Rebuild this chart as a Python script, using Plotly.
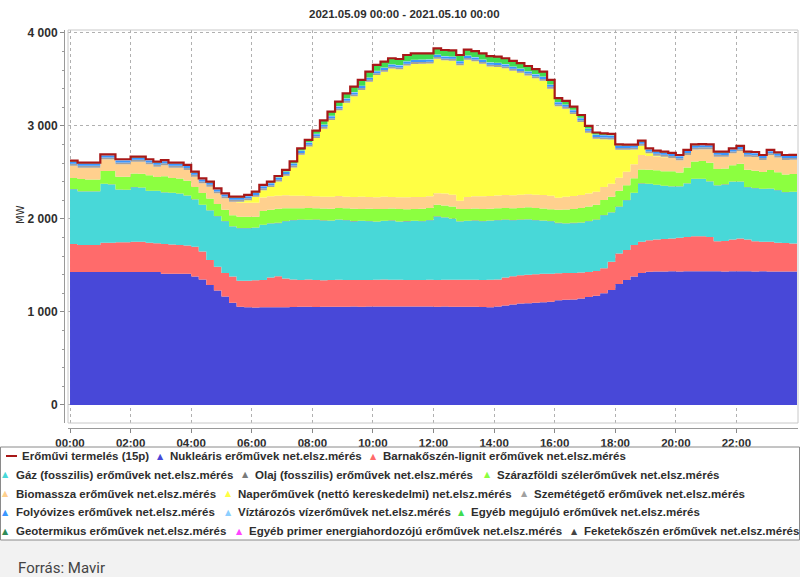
import plotly.graph_objects as go
import pandas as pd

# ---------------- data (MW, 15-minute intervals, 2021.05.09) ----------------
TIME = pd.date_range("2021-05-09 00:00", periods=96, freq="15min")
END_TIME = pd.Timestamp("2021-05-10 00:00")

TOTAL = [2627,2606,2606,2606,2695,2695,2642,2642,2670,2670,2642,2616,2632,2606,2606,2581,2509,2437,2401,2330,2276,2240,2240,2258,
         2294,2366,2401,2462,2527,2620,2760,2850,2950,3060,3154,3262,3351,3423,3495,3584,3656,3692,3728,3720,3763,3781,3781,3781,
         3835,3817,3812,3763,3822,3805,3781,3750,3745,3728,3700,3676,3645,3612,3584,3495,
         3300,3270,3208,3118,3000,2930,2921,2915,2802,2800,2800,2842,2760,2735,2725,2710,2688,2742,2802,2805,2802,2724,2724,2760,2785,2724,2720,2688,2742,2716,2688,2690]

NUKLEARIS = [1430,1430,1430,1430,1430,1430,1430,1430,1430,1430,1430,1430,
             1410,1410,1410,1410,
             1380,1350,1290,1230,1165,1100,1055,
             1050,1048,1050,1052,1050,1050,1053,1055,1055,1054,1055,1056,1055,1056,1058,1057,1058,1058,1060,1058,1059,1060,1060,1058,1058,1057,1058,1056,1055,1056,1055,1053,1052,
             1060,1070,1080,1090,1095,1100,1105,1110,1125,1130,1135,1145,1160,1175,1200,1235,1300,1345,1380,1420,1432,
             1435,1436,1437,1436,1438,1437,1438,1439,1437,1436,1437,1438,1437,1436,1437,1436,1435,1436,1435]

LIGNIT = [300,290,290,290,315,315,320,320,325,325,315,310,
          320,315,310,305,
          320,300,270,257,255,280,280,285,
          292,295,318,335,310,297,
          290,293,291,287,289,292,289,286,286,287,288,288,289,287,284,283,287,289,288,288,291,292,291,292,292,294,
          290,300,305,305,305,305,305,302,290,288,285,280,270,265,270,305,330,320,340,335,340,345,348,353,362,368,377,376,368,323,328,343,352,343,324,319,318,309,305,300]

GAZ = [590,575,575,575,630,625,565,562,585,580,555,560,555,555,550,535,510,500,530,543,555,540,565,565,
       565,590,580,570,615,635,645,640,645,640,635,645,640,630,635,630,625,630,635,625,630,635,630,640,
       680,670,655,625,630,635,630,635,635,620,600,595,595,580,570,563,540,532,535,535,545,550,570,530,500,535,560,625,
       603,585,570,560,550,575,615,615,595,600,605,620,610,560,570,565,570,565,545,555]

OLAJ = [3,3,3,3,3,3,3,3,3,3,3,3,3,3,3,3,3,3,3,3,3,3,3,3,
        3,3,3,3,3,3,3,3,3,3,3,3,3,3,3,3,3,3,3,3,3,3,3,3,
        3,3,3,3,3,3,3,3,3,3,3,3,3,3,3,3,3,3,3,3,3,3,3,3,
        3,3,3,3,3,3,3,3,3,3,3,3,3,3,3,3,3,3,3,3,3,3,3,3]

SZEL = [117,132,127,127,137,142,137,140,147,147,167,147,172,157,162,157,132,127,127,127,122,117,122,122,
        117,147,147,152,137,127,122,127,122,127,127,122,127,132,127,132,132,127,127,132,127,127,132,127,
        125,127,130,132,127,127,130,127,127,125,127,125,127,130,130,127,
        140,150,150,155,155,160,160,165,170,160,155,150,150,155,155,160,150,170,185,190,200,175,170,175,190,185,185,180,200,190,190,190]

BIOMASSZA = [133,122,127,127,126,126,133,133,126,131,118,112,118,112,117,117,110,103,127,116,122,146,150,150,
             150,145,145,140,140,135,135,130,130,128,128,130,125,128,130,125,128,130,125,128,130,128,125,128,
             123,128,125,90,130,132,135,135,138,140,140,142,140,142,145,145,
             130,135,140,140,140,140,140,140,140,145,150,155,150,150,153,143,131,135,130,128,145,132,127,128,138,142,148,131,160,159,156,153]

NAP = [0,0,0,0,0,0,0,0,0,0,0,0,0,0,0,0,0,0,0,0,0,0,11,27,
       63,79,98,152,209,304,440,530,625,731,825,921,1011,1082,1149,1241,1313,1345,1381,1375,1416,1431,1434,1426,
       1447,1432,1442,1456,1475,1451,1426,1393,1382,1362,1339,1312,1278,1252,1228,1151,
       984,948,880,784,655,569,514,476,301,236,158,100,28,8,5,
       0,0,0,0,0,0,0,0,0,0,0,0,0,0,0,0,0]

SZEMET = [20,20,20,20,20,20,20,20,20,20,20,20,20,20,20,20,20,20,20,20,20,20,20,20,
          20,20,20,20,20,20,20,20,20,20,20,20,20,20,20,20,20,20,20,20,20,20,20,20,
          20,20,20,20,20,20,20,20,20,20,20,20,20,20,20,20,20,20,20,20,20,20,20,20,
          20,20,20,20,20,20,20,20,20,20,20,20,20,20,20,20,20,20,20,20,20,20,20,20]

FOLYOVIZ = [22,22,22,22,22,22,22,22,22,22,22,22,22,22,22,22,22,22,22,22,22,22,22,22,
            22,22,22,22,22,22,22,22,22,22,22,22,22,22,22,22,22,22,22,22,22,22,22,22,
            22,22,22,22,22,22,22,22,22,22,22,22,22,22,22,22,22,22,22,22,22,22,22,22,
            22,22,22,22,22,22,22,22,22,22,22,22,22,22,22,22,22,22,22,22,22,22,22,22]

VIZTAROZO = [4,4,4,4,4,4,4,4,4,4,4,4,4,4,4,4,4,4,4,4,4,4,4,4,
             4,4,4,4,4,4,4,4,4,4,4,4,4,4,4,4,4,4,4,4,4,4,4,4,
             4,4,4,4,4,4,4,4,4,4,4,4,4,4,4,4,4,4,4,4,4,4,4,4,
             4,4,4,4,4,4,4,4,4,4,4,4,4,4,4,4,4,4,4,4,4,4,4,4]

EGYEB_MEGUJ = [6,6,6,6,6,6,6,6,6,6,6,6,6,6,6,6,6,6,6,6,6,6,6,
               8,8,9,10,12,15,18,22,27,32,38,43,48,52,55,58,60,62,
               64,64,64,64,64,64,64,64,64,64,64,64,64,64,64,
               62,60,58,56,54,52,50,46,40,36,32,28,24,20,16,13,10,8,
               6,6,6,6,6,6,6,6,6,6,6,6,6,6,6,6,6,6,6,6,6,6]

GEOTERMIKUS = [2,2,2,2,2,2,2,2,2,2,2,2,2,2,2,2,2,2,2,2,2,2,2,2,
               2,2,2,2,2,2,2,2,2,2,2,2,2,2,2,2,2,2,2,2,2,2,2,2,
               2,2,2,2,2,2,2,2,2,2,2,2,2,2,2,2,2,2,2,2,2,2,2,2,
               2,2,2,2,2,2,2,2,2,2,2,2,2,2,2,2,2,2,2,2,2,2,2,2]

EGYEB_PRIMER = [0,0,0,0,0,0,0,0,0,0,0,0,0,0,0,0,0,0,0,0,0,0,0,0,
                0,0,0,0,0,0,0,0,0,0,0,0,0,0,0,0,0,0,0,0,0,0,0,0,
                0,0,0,0,0,0,0,0,0,0,0,0,0,0,0,0,0,0,0,0,0,0,0,0,
                0,0,0,0,0,0,0,0,0,0,0,0,0,0,0,0,0,0,0,0,0,0,0,0]

FEKETESZEN = [0,0,0,0,0,0,0,0,0,0,0,0,0,0,0,0,0,0,0,0,0,0,0,0,
              0,0,0,0,0,0,0,0,0,0,0,0,0,0,0,0,0,0,0,0,0,0,0,0,
              0,0,0,0,0,0,0,0,0,0,0,0,0,0,0,0,0,0,0,0,0,0,0,0,
              0,0,0,0,0,0,0,0,0,0,0,0,0,0,0,0,0,0,0,0,0,0,0,0]

Y_TICKS = [0, 1000, 2000, 3000, 4000]
Y_TICK_LABELS = ["0", "1 000", "2 000", "3 000", "4 000"]
X_TICK_LABELS = ["00:00", "02:00", "04:00", "06:00", "08:00", "10:00",
                 "12:00", "14:00", "16:00", "18:00", "20:00", "22:00"]

LINE_NAME = "Erőművi termelés (15p)"
SERIES = [
    ("Nukleáris erőművek net.elsz.mérés", NUKLEARIS, "#4848d8"),
    ("Barnakőszén-lignit erőművek net.elsz.mérés", LIGNIT, "#ff6b6b"),
    ("Gáz (fosszilis) erőművek net.elsz.mérés", GAZ, "#48d8d8"),
    ("Olaj (fosszilis) erőművek net.elsz.mérés", OLAJ, "#7a7a7a"),
    ("Szárazföldi szélerőművek net.elsz.mérés", SZEL, "#8cff40"),
    ("Biomassza erőművek net.elsz.mérés", BIOMASSZA, "#ffd08e"),
    ("Naperőművek (nettó kereskedelmi) net.elsz.mérés", NAP, "#ffff44"),
    ("Szemétégető erőművek net.elsz.mérés", SZEMET, "#a0a0a0"),
    ("Folyóvizes erőművek net.elsz.mérés", FOLYOVIZ, "#3a96ff"),
    ("Víztározós vízerőművek net.elsz.mérés", VIZTAROZO, "#8ccfff"),
    ("Egyéb megújuló erőművek net.elsz.mérés", EGYEB_MEGUJ, "#40dc50"),
    ("Geotermikus erőművek net.elsz.mérés", GEOTERMIKUS, "#2e8b57"),
    ("Egyéb primer energiahordozójú erőművek net.elsz.mérés", EGYEB_PRIMER, "#ff44ff"),
    ("Feketekőszén erőművek net.elsz.mérés", FEKETESZEN, "#444444"),
]
LINE_COLOR = "#a81818"

# ---------------- figure ----------------
xs = list(TIME) + [END_TIME]
fig = go.Figure()
for name, vals, color in SERIES:
    fig.add_trace(go.Scatter(
        x=xs, y=list(vals) + [vals[-1]], name=name, mode="lines",
        stackgroup="one", line=dict(width=0, shape="hv", color=color),
        fillcolor=color, hoverinfo="skip", showlegend=False))
fig.add_trace(go.Scatter(
    x=xs, y=list(TOTAL) + [TOTAL[-1]], name=LINE_NAME, mode="lines",
    line=dict(width=2.2, shape="hv", color=LINE_COLOR),
    hoverinfo="skip", showlegend=False))

W, H = 800, 577
ML, MR, MT, MB = 64, 2, 30, 149
PW, PH = W - ML - MR, H - MT - MB


def px(x):
    return (x - ML) / PW


def py(y):
    return (H - MB - y) / PH


FONT = "Liberation Sans, Arial, sans-serif"
TXT = "#2e2e2e"
annotations = []
shapes = []


def note(text, x, y, size, xanchor="left", family=FONT, color=TXT, angle=0):
    annotations.append(dict(text=text, x=px(x), y=py(y), xref="paper", yref="paper",
                            xanchor=xanchor, yanchor="middle", showarrow=False,
                            textangle=angle, font=dict(family=family, size=size, color=color)))


# title
note("<b>2021.05.09 00:00 - 2021.05.10 00:00</b>", 404, 14, 11.5, xanchor="center")
# y title
note("MW", 21, 215, 10, xanchor="center", family="DejaVu Sans, sans-serif", angle=-90)

# bottom band + legend box
shapes.append(dict(type="rect", xref="paper", yref="paper", x0=px(0), x1=px(800), y0=py(577), y1=py(540),
                   fillcolor="#f2f2f2", line=dict(width=0), layer="below"))
shapes.append(dict(type="rect", xref="paper", yref="paper", x0=px(0.5), x1=px(799.5), y0=py(540), y1=py(447),
                   fillcolor="rgba(0,0,0,0)", line=dict(width=1, color="#8a8a8a")))
# plot area frame
shapes.append(dict(type="rect", xref="paper", yref="paper", x0=px(68), x1=1, y0=py(423), y1=1,
                   line=dict(width=1, color="#c8c8c8"), fillcolor="rgba(0,0,0,0)"))

note("Forrás: Mavir", 16, 568, 15, family="Roboto, sans-serif", color="#444444")

# manual legend
rows_y = [456, 475, 493.5, 512, 531]
layout_pos = [
    # (series index or None for line, row, marker x, text x)
    (None, 0, 12, 20), (0, 0, 160, 168), (1, 0, 373, 381),
    (2, 1, 5, 14), (3, 1, 245, 253), (4, 1, 487, 495),
    (5, 2, 5, 14), (6, 2, 228, 236), (7, 2, 524, 532),
    (8, 3, 5, 14), (9, 3, 228, 236), (10, 3, 461, 469),
    (11, 4, 5, 14), (12, 4, 239, 247), (13, 4, 574, 582),
]
for idx, row, mx, tx in layout_pos:
    yy = rows_y[row]
    if idx is None:
        name = LINE_NAME
        shapes.append(dict(type="line", xref="paper", yref="paper", x0=px(6), x1=px(17),
                           y0=py(yy), y1=py(yy), line=dict(color=LINE_COLOR, width=2)))
    else:
        name, _, color = SERIES[idx]
        note("▲", mx, yy, 8, xanchor="center", family="DejaVu Sans, sans-serif", color=color)
    note("<b>" + name + "</b>", tx, yy, 11.5)

x_start = pd.Timestamp("2021-05-09 00:00") - pd.Timedelta(minutes=4)
x_end = pd.Timestamp("2021-05-10 00:00") + pd.Timedelta(minutes=2)

fig.update_layout(
    width=W, height=H, margin=dict(l=ML, r=MR, t=MT, b=MB, autoexpand=False),
    paper_bgcolor="white", plot_bgcolor="white",
    showlegend=False,
    annotations=annotations, shapes=shapes,
    xaxis=dict(type="date", range=[x_start, x_end], domain=[px(68), 1],
               anchor="free", position=0, automargin=False,
               tickvals=list(TIME[::8]), ticktext=X_TICK_LABELS,
               tickfont=dict(family=FONT, size=11.5, color=TXT, weight="bold"),
               ticks="outside", ticklen=4, tickcolor="#888888",
               showline=True, linecolor="#999999", linewidth=1,
               showgrid=True, gridcolor="#b0b0b0", griddash="dot", gridwidth=1,
               zeroline=False, fixedrange=True),
    yaxis=dict(range=[-194, 4032], domain=[py(423), 1],
               anchor="free", position=0, automargin=False,
               tickvals=Y_TICKS, ticktext=Y_TICK_LABELS,
               tickfont=dict(family=FONT, size=12, color=TXT, weight="bold"),
               ticks="outside", ticklen=4, tickcolor="#888888",
               minor=dict(dtick=200, ticks="outside", ticklen=2, tickcolor="#999999", showgrid=False),
               showline=True, linecolor="#999999", linewidth=1,
               showgrid=True, gridcolor="#b0b0b0", griddash="dot", gridwidth=1,
               zeroline=False, fixedrange=True),
)

fig.write_html("out.html", config={"displayModeBar": False},
               post_script="document.body.style.margin='0px';")
